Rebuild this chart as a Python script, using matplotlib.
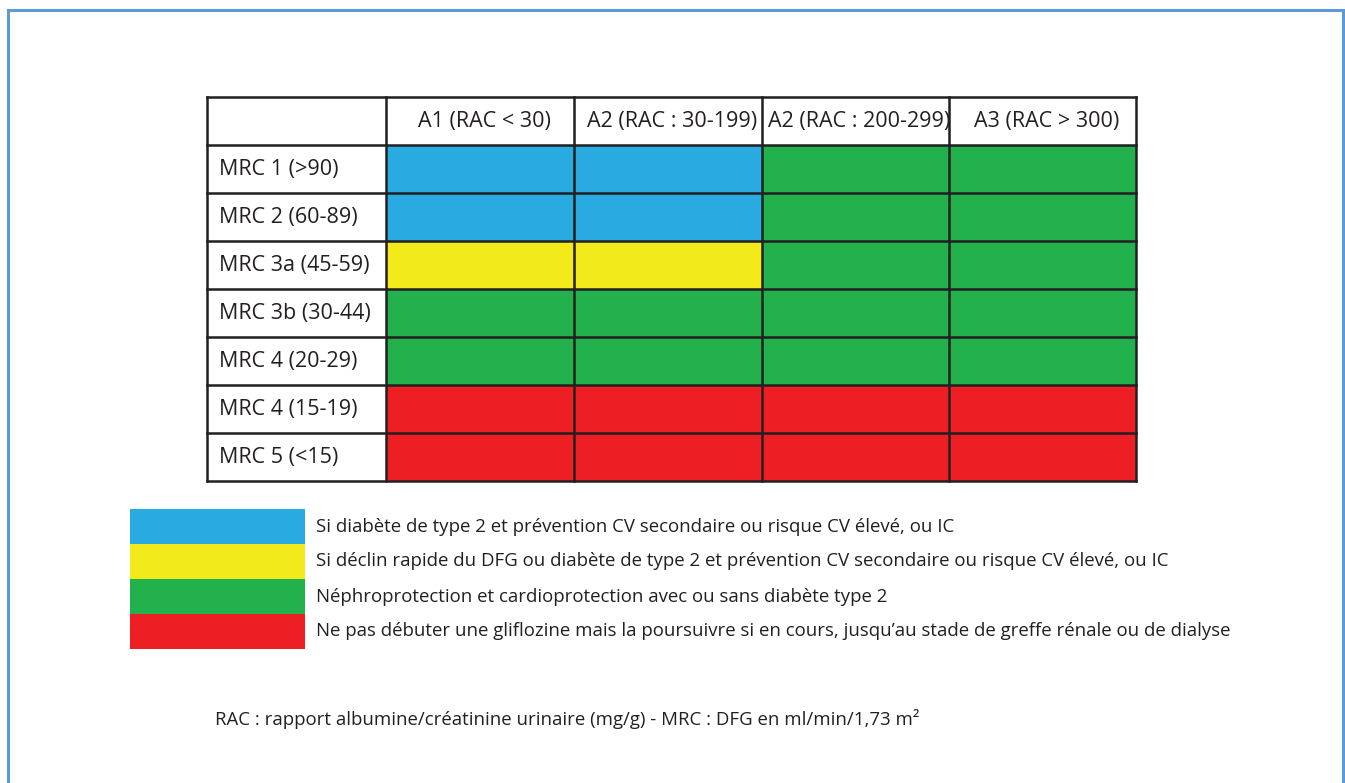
import matplotlib
matplotlib.use("Agg")
import matplotlib.pyplot as plt
from matplotlib.patches import Rectangle

# ---- data ----
col_labels = ["A1 (RAC < 30)", "A2 (RAC : 30-199)", "A2 (RAC : 200-299)", "A3 (RAC > 300)"]
row_labels = ["MRC 1 (>90)", "MRC 2 (60-89)", "MRC 3a (45-59)", "MRC 3b (30-44)",
              "MRC 4 (20-29)", "MRC 4 (15-19)", "MRC 5 (<15)"]
# category index per cell: 0 blue, 1 yellow, 2 green, 3 red
cell_cat = [
    [0, 0, 2, 2],
    [0, 0, 2, 2],
    [1, 1, 2, 2],
    [2, 2, 2, 2],
    [2, 2, 2, 2],
    [3, 3, 3, 3],
    [3, 3, 3, 3],
]
legend_texts = [
    "Si diabète de type 2 et prévention CV secondaire ou risque CV élevé, ou IC",
    "Si déclin rapide du DFG ou diabète de type 2 et prévention CV secondaire ou risque CV élevé, ou IC",
    "Néphroprotection et cardioprotection avec ou sans diabète type 2",
    "Ne pas débuter une gliflozine mais la poursuivre si en cours, jusqu\u2019au stade de greffe rénale ou de dialyse",
]
footnote = "RAC : rapport albumine/créatinine urinaire (mg/g) - MRC : DFG en ml/min/1,73 m\u00b2"

# ---- styles / layout ----
cat_colors = ["#29ABE2", "#F2EA1A", "#22B14C", "#ED1F24"]
line_col = "#231F20"
W, H = 1345, 783
col_edges = [207, 386, 574, 762, 949, 1136]
row_top, header_h, row_h = 97, 48, 48
font = "Open Sans"
fs = 15.5
fs_leg = 13.4

fig = plt.figure(figsize=(W / 100, H / 100), dpi=100)
ax = fig.add_axes([0, 0, 1, 1])
ax.set_xlim(0, W)
ax.set_ylim(H, 0)
ax.axis("off")

# outer frame
ax.plot([8, 8, 1343, 1343], [H + 5, 9.5, 9.5, H + 5], color="#5B9BD5", lw=2.2,
        solid_joinstyle="miter")

# cells
for i, row in enumerate(cell_cat):
    y0 = row_top + header_h + i * row_h
    for j, c in enumerate(row):
        x0 = col_edges[j + 1]
        ax.add_patch(Rectangle((x0, y0), col_edges[j + 2] - x0, row_h,
                               facecolor=cat_colors[c], edgecolor="none"))

n_rows = len(row_labels)
bottom = row_top + header_h + n_rows * row_h
# grid lines
for x in col_edges:
    ax.plot([x, x], [row_top, bottom], color=line_col, lw=1.8, solid_capstyle="projecting")
ys = [row_top] + [row_top + header_h + k * row_h for k in range(n_rows + 1)]
for y in ys:
    ax.plot([col_edges[0], col_edges[-1]], [y, y], color=line_col, lw=1.8,
            solid_capstyle="projecting")

# header text
for j, lab in enumerate(col_labels):
    xc = (col_edges[j + 1] + col_edges[j + 2]) / 2 + 4
    ax.text(xc, row_top + header_h / 2, lab, ha="center", va="center",
            fontsize=fs, family=font, color="#231F20")
# row labels
for i, lab in enumerate(row_labels):
    yc = row_top + header_h + i * row_h + row_h / 2
    ax.text(219, yc, lab, ha="left", va="center", fontsize=fs, family=font, color="#231F20")

# legend
leg_top, leg_h = 509, 35
for k, txt in enumerate(legend_texts):
    y0 = leg_top + k * leg_h
    ax.add_patch(Rectangle((130, y0), 175, leg_h, facecolor=cat_colors[k], edgecolor="none"))
    ax.text(316, y0 + leg_h / 2, txt, ha="left", va="center", fontsize=fs_leg,
            family=font, color="#231F20")

ax.text(215, 719, footnote, ha="left", va="center", fontsize=fs_leg, family=font, color="#231F20")

fig.savefig("out.png", dpi=100, facecolor="white")
